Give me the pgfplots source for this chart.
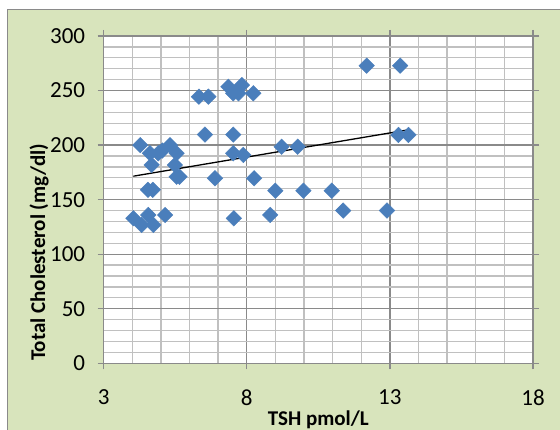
\documentclass[border=0pt]{standalone}
\usepackage{fontspec}
\setmainfont{Carlito}
\usepackage{pgfplots}
\pgfplotsset{compat=1.18}
\definecolor{bgGreen}{HTML}{D8E4BC}
\definecolor{ptBlue}{HTML}{4A7EBB}
\definecolor{majGrid}{HTML}{8A8A8A}
\definecolor{minGrid}{HTML}{C0C0C0}
\begin{document}
\begin{tikzpicture}[x=1pt,y=1pt]
\useasboundingbox (0,0) rectangle (560,430);
\fill[white] (0,0) rectangle (560,430);
\fill[bgGreen] (7.5,0) rectangle (560,420.5);
\draw[majGrid, line width=1pt] (7.5,0) -- (7.5,420.5) -- (560,420.5);
\begin{axis}[
  at={(103.6pt,66.7pt)}, anchor=south west,
  scale only axis, width=429.4pt, height=327.3pt,
  xmin=3, xmax=18, ymin=0, ymax=300,
  xtick={3,8,13,18}, ytick={0,50,100,150,200,250,300},
  minor xtick={4,5,6,7,9,10,11,12,14,15,16,17},
  minor ytick={10,20,30,40,60,70,80,90,110,120,130,140,160,170,180,190,210,220,230,240,260,270,280,290},
  grid=both,
  major grid style={line width=1.3pt, color=majGrid},
  minor grid style={line width=1.3pt, color=minGrid},
  axis background/.style={fill=white},
  axis line style={majGrid, line width=1.3pt},
  tick style={majGrid, line width=1.3pt},
  tick align=outside, major tick length=6pt, minor tick length=0pt,
  /pgf/number format/assume math mode=true,
  tick label style={font=\fontsize{23}{26}\selectfont, black},
  xticklabel style={yshift=-17pt},
  yticklabel style={xshift=-9pt},
  xlabel={\bfseries TSH pmol/L},
  ylabel={\bfseries Total Cholesterol (mg/dl)},
  label style={font=\fontsize{21}{24}\selectfont},
  xlabel style={at={(axis description cs:0.5,-0.174)}, anchor=center},
  ylabel style={at={(axis description cs:-0.150,0.339)}, anchor=center},
  clip=false,
]
\addplot[only marks, mark=square*, mark size=5.5pt, mark options={rotate=45, fill=ptBlue, draw=ptBlue}] coordinates {
(4.04,132.9) (4.33,126.8) (4.56,135.9) (4.74,126.8) (5.15,135.9)
(4.55,159) (4.72,159)
(4.28,200) (4.62,192.5) (4.91,192.5) (5.05,195) (5.32,200) (5.55,192.5)
(4.68,181.8) (5.49,181.8) (5.55,171) (5.65,171)
(6.33,244.4) (6.66,244.4) (7.36,253.5) (7.53,247.5) (7.83,255) (7.71,247.5) (8.23,247.5)
(6.54,209.6) (7.53,209.6) (7.53,192.5) (7.88,191)
(6.89,169.6) (8.26,169.6)
(9.22,198.5) (9.78,198.5)
(9.0,158.2) (9.98,158.2) (10.97,158.2)
(7.55,132.9) (8.82,136)
(11.37,140) (12.9,140)
(12.19,272.8) (13.36,272.8)
(13.3,209.3) (13.65,209.3)
};
\addplot[black, line width=1.3pt] coordinates {(4.04,171.5) (13.6,213.8)};
\end{axis}
\end{tikzpicture}
\end{document}
